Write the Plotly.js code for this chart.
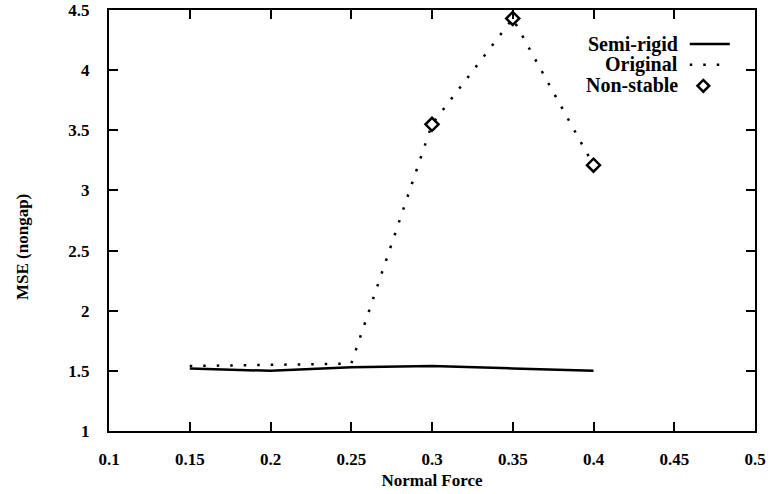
<!DOCTYPE html>
<html><head><meta charset="utf-8">
<script src="https://cdn.plot.ly/plotly-3.0.1.min.js"></script>
<style>html,body{margin:0;padding:0;background:#fff}#chart{width:772px;height:494px}</style>
</head><body><div id="chart"></div>
<script>
const xSemi = [0.15, 0.2, 0.25, 0.3, 0.35, 0.4];
const ySemi = [1.52, 1.50, 1.53, 1.54, 1.52, 1.50];
const xOrig = [0.15, 0.2, 0.25, 0.3, 0.35, 0.4];
const yOrig = [1.54, 1.55, 1.56, 3.55, 4.43, 3.21];
const xNon = [0.3, 0.35, 0.4];
const yNon = [3.55, 4.43, 3.21];
const xTicks = [0.1, 0.15, 0.2, 0.25, 0.3, 0.35, 0.4, 0.45, 0.5];
const xTickText = ['0.1','0.15','0.2','0.25','0.3','0.35','0.4','0.45','0.5'];
const yTicks = [1, 1.5, 2, 2.5, 3, 3.5, 4, 4.5];
const yTickText = ['1','1.5','2','2.5','3','3.5','4','4.5'];
const legendNames = ['Semi-rigid', 'Original', 'Non-stable'];
const yTitle = 'MSE (nongap)';
const xTitle = 'Normal Force';

const fam = 'Liberation Serif, Times New Roman, serif';
const traces = [
  {x: xSemi, y: ySemi, mode: 'lines', line: {color: '#000', width: 2.5}, name: legendNames[0], showlegend: false},
  {x: xOrig, y: yOrig, mode: 'lines', line: {color: '#000', width: 2.5, dash: '2.5px,11px'}, name: legendNames[1], showlegend: false},
  {x: xNon, y: yNon, mode: 'markers', marker: {symbol: 'diamond-open', size: 10, color: '#000', line: {width: 2.5, color: '#000'}}, name: legendNames[2], showlegend: false}
];
const legX = 0.884, legY0 = 0.919, legDy = 0.049;
const annotations = legendNames.map((n, i) => ({
  xref: 'paper', yref: 'paper', x: legX, y: legY0 - i * legDy, text: '<b>' + n + '</b>',
  showarrow: false, xanchor: 'right', yanchor: 'middle', font: {family: fam, size: 20, color: '#000'}
}));
annotations.push({xref: 'paper', yref: 'paper', x: 0, y: 0.437, xshift: -87, text: '<b>' + yTitle + '</b>',
  textangle: -90, showarrow: false, xanchor: 'center', yanchor: 'middle', font: {family: fam, size: 17, color: '#000'}});
const shapes = [
  {type: 'line', xref: 'paper', yref: 'paper', x0: 0.899, x1: 0.961, y0: legY0, y1: legY0, line: {color: '#000', width: 2.5}},
  {type: 'line', xref: 'paper', yref: 'paper', x0: 0.899, x1: 0.961, y0: legY0 - legDy, y1: legY0 - legDy, line: {color: '#000', width: 2.5, dash: '2.5px,11px'}}
];
const legendDiamond = {x: [0.468], y: [3.87], mode: 'markers', marker: {symbol: 'diamond-open', size: 9, color: '#000', line: {width: 2.5, color: '#000'}}, showlegend: false, hoverinfo: 'skip'};
const axisCommon = {ticks: 'inside', ticklen: 9, tickwidth: 2, tickcolor: '#000',
  showline: true, linewidth: 2, linecolor: '#000', mirror: 'ticks', showgrid: false, zeroline: false,
  tickfont: {family: fam, size: 17, color: '#000'}};
const layout = {
  width: 772, height: 494,
  margin: {l: 109, r: 17, t: 10, b: 63},
  paper_bgcolor: '#fff', plot_bgcolor: '#fff',
  showlegend: false,
  font: {family: fam, size: 17, color: '#000'},
  xaxis: Object.assign({range: [0.1, 0.5], tickvals: xTicks, ticktext: xTickText.map(t => '<b>' + t + '</b>'), ticklabelstandoff: 12,
    title: {text: '<b>' + xTitle + '</b>', font: {family: fam, size: 17}, standoff: 6}}, axisCommon),
  yaxis: Object.assign({range: [1, 4.5], tickvals: yTicks, ticktext: yTickText.map(t => '<b>' + t + '</b>'), ticklabelstandoff: 14}, axisCommon),
  annotations: annotations,
  shapes: shapes
};
Plotly.newPlot('chart', traces.concat([legendDiamond]), layout, {displayModeBar: false, staticPlot: true});
</script></body></html>
